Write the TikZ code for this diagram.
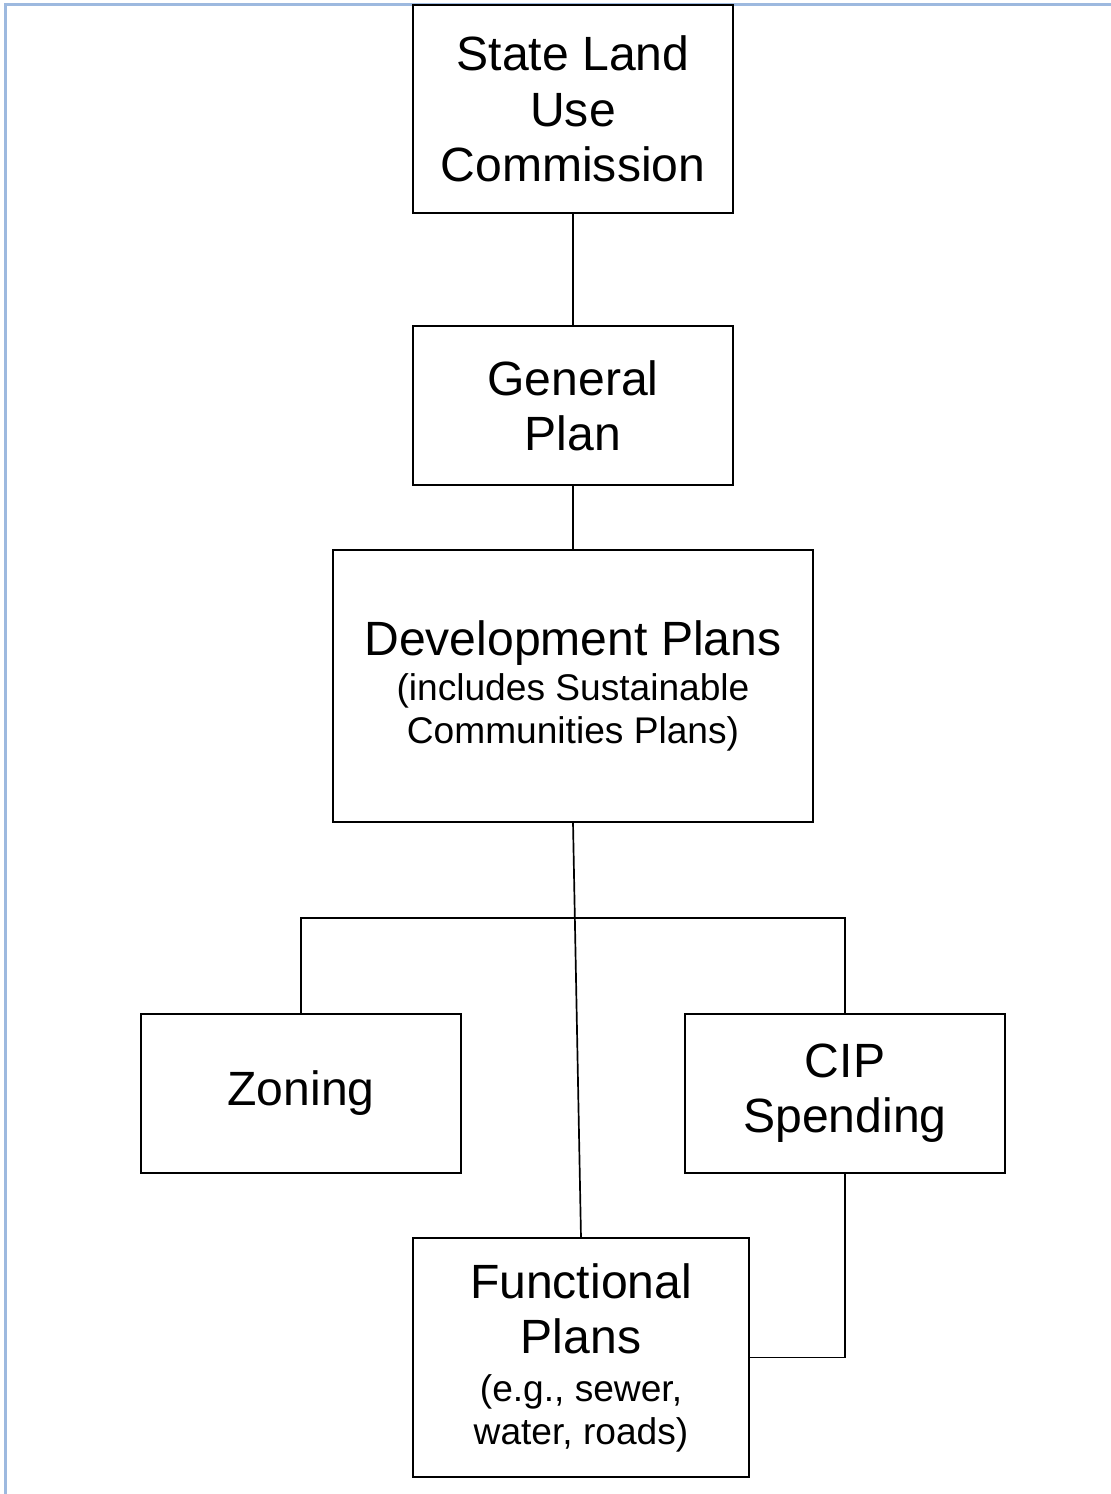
\documentclass[tikz,border=0pt]{standalone}
\usepackage{fontspec}
\setmainfont{Liberation Sans}
\usepackage{xcolor}
\usetikzlibrary{positioning}
\definecolor{frameblue}{RGB}{157,185,223}
\newcommand{\smalltext}{\fontsize{26.4}{30.4}\selectfont}
\tikzset{
  box/.style={draw, line width=1.3pt, align=center, inner sep=0pt, outer sep=0pt,
              font=\fontsize{34.2}{39.3}\selectfont},
  link/.style={line width=1.2pt},
  frame/.style={draw=frameblue, line width=1.6pt}
}

\begin{document}
\begin{tikzpicture}[x=0.025cm,y=-0.025cm]
  \useasboundingbox (0,0) rectangle (1111,1494);
  \draw[frame] (5.5,1494) -- (5.5,4.5) -- (1111,4.5);
  \node[box, minimum width=8cm, minimum height=5.2cm] (state) at (573,109) {State Land\\Use\\Commission};
  \node[box, minimum width=8cm, minimum height=3.975cm] (general) at (573,405.5) {General\\Plan};
  \node[box, minimum width=12cm, minimum height=6.8cm] (devplans) at (573,686)
    {Development Plans\\[-7pt]{\smalltext (includes Sustainable}\\[-9pt]{\smalltext Communities Plans)}};
  \node[box, minimum width=8cm, minimum height=3.975cm] (zoning) at (301,1093.5) {Zoning};
  \node[box, minimum width=8cm, minimum height=3.975cm] (cip) at (845,1093.5) {CIP\\Spending};
  \node[box, minimum width=8.4cm, minimum height=5.975cm] (functional) at (581,1357.5)
    {Functional\\Plans\\[-5pt]{\smalltext (e.g., sewer,}\\[-9pt]{\smalltext water, roads)}};
  \coordinate (branch) at (576,918);
  \draw[link] (state) -- (general);
  \draw[link] (general) -- (devplans);
  \draw[link] (devplans.south) -- (functional.north);
  \draw[link] (zoning.north) |- (branch) -| (cip.north);
  \draw[link] (cip.south) |- (functional.east);
\end{tikzpicture}
\end{document}
